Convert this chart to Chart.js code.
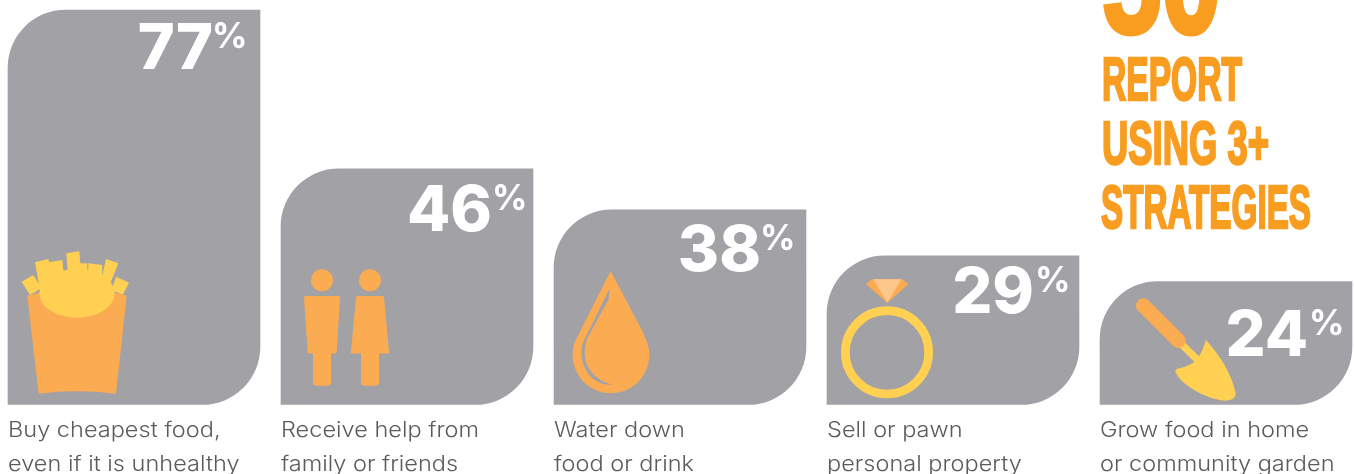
<!DOCTYPE html>
<html>
<head>
<meta charset="utf-8">
<style>
  html, body { margin: 0; padding: 0; background: #fff; overflow: hidden; }
  #wrap { width: 1354px; height: 474px; }
</style>
<script src="https://cdn.jsdelivr.net/npm/chart.js@4"></script>
</head>
<body>
<div id="wrap"><canvas id="chart" width="1354" height="474"></canvas></div>
<script>
const categories = [
  ['Buy cheapest food,', 'even if it is unhealthy'],
  ['Receive help from', 'family or friends'],
  ['Water down', 'food or drink'],
  ['Sell or pawn', 'personal property'],
  ['Grow food in home', 'or community garden'],
];
const values = [77, 46, 38, 29, 24];
const headlineNumber = '50';
const headlineLines = ['REPORT', 'USING 3+', 'STRATEGIES'];

const GREY = '#a2a1a5';
const ORANGE = '#fbac52';
const YELLOW = '#ffd051';
const HEADLINE = '#f99d20';
const TEXT = '#5b5b5d';

const BAR_WIDTH = 252;
// baseline and insets from the bar's right edge for the big value and its percent sign
const valueBaselines = [69, 231, 271, 313, 356];
const digitInsets = [47, 41, 45, 45, 44];
const percentInsets = [48, 41, 46, 44, 43];

// small helpers, icon paths are laid out on a 3x grid
function poly(ctx, pts) {
  ctx.beginPath();
  pts.forEach((p, i) => (i ? ctx.lineTo(p[0], p[1]) : ctx.moveTo(p[0], p[1])));
  ctx.closePath();
  ctx.fill();
}

function onGrid(ctx, x, y, draw) {
  ctx.save();
  ctx.translate(x, y);
  ctx.scale(1 / 3, 1 / 3);
  draw();
  ctx.restore();
}

function drawFries(ctx) {
  ctx.fillStyle = YELLOW;
  [
    [[65, 155], [100, 135], [125, 175], [90, 195]],
    [[105, 97], [145, 87], [165, 170], [120, 180]],
    [[145, 97], [187, 90], [195, 170], [150, 170]],
    [[199, 70], [238, 64], [245, 150], [205, 150]],
    [[235, 100], [262, 100], [262, 170], [235, 170]],
    [[265, 100], [307, 105], [305, 170], [265, 170]],
    [[318, 87], [355, 100], [325, 175], [300, 165]],
    [[348, 140], [387, 158], [368, 195], [335, 180]],
  ].forEach((f) => poly(ctx, f));
  // carton, with the scooped mouth cut by the yellow ellipse below
  ctx.fillStyle = ORANGE;
  ctx.beginPath();
  ctx.moveTo(82, 197);
  ctx.lineTo(118, 188);
  ctx.lineTo(345, 188);
  ctx.lineTo(380, 197);
  ctx.lineTo(348, 491);
  ctx.quadraticCurveTo(231, 477, 116, 491);
  ctx.closePath();
  ctx.fill();
  ctx.fillStyle = YELLOW;
  ctx.beginPath();
  ctx.ellipse(231, 190, 113, 73, 0, 0, Math.PI * 2);
  ctx.fill();
}

function roundedFill(ctx, x, y, w, h, r) {
  ctx.beginPath();
  ctx.roundRect(x, y, w, h, r);
  ctx.fill();
}

function drawPeople(ctx) {
  ctx.fillStyle = ORANGE;
  [126, 270].forEach((cx) => {
    ctx.beginPath();
    ctx.arc(cx, 361, 33, 0, Math.PI * 2);
    ctx.fill();
  });
  ctx.lineJoin = 'round';
  ctx.lineWidth = 10;
  ctx.strokeStyle = ORANGE;
  [
    { body: [[77, 413], [175, 413], [165, 575], [88, 575]], hem: [84, 168], legs: 99 },
    { body: [[233, 413], [307, 413], [322, 575], [218, 575]], hem: [212, 328], legs: 243 },
  ].forEach((p) => {
    poly(ctx, p.body);
    ctx.stroke();
    // square off the hem, then the legs
    ctx.fillRect(p.hem[0], 570, p.hem[1] - p.hem[0], 10);
    ctx.fillRect(p.legs, 570, 54, 90);
    roundedFill(ctx, p.legs, 620, 54, 57, 10);
  });
}

function drawDrop(ctx) {
  ctx.fillStyle = ORANGE;
  ctx.beginPath();
  ctx.moveTo(182, 213);
  ctx.lineTo(283, 404);
  ctx.arc(183, 465, 115, Math.atan2(-61, 100), Math.atan2(-61, -100));
  ctx.closePath();
  ctx.fill();
  // highlight sliver down the left side
  ctx.fillStyle = GREY;
  ctx.beginPath();
  ctx.moveTo(178, 268);
  ctx.lineTo(100, 425);
  ctx.bezierCurveTo(80, 480, 115, 558, 187, 554);
  ctx.bezierCurveTo(130, 540, 85, 490, 112, 415);
  ctx.lineTo(176, 298);
  ctx.closePath();
  ctx.fill();
}

function drawRing(ctx) {
  ctx.strokeStyle = YELLOW;
  ctx.lineWidth = 26;
  ctx.beginPath();
  ctx.arc(201, 337, 125, 0, Math.PI * 2);
  ctx.stroke();
  ctx.fillStyle = ORANGE;
  poly(ctx, [[138, 133], [155, 118], [248, 118], [265, 133], [202, 188]]);
  ctx.fillStyle = '#fdc78c';
  poly(ctx, [[160, 118], [244, 118], [202, 188]]);
}

function drawTrowel(ctx) {
  ctx.strokeStyle = YELLOW;
  ctx.lineWidth = 22;
  ctx.beginPath();
  ctx.moveTo(270, 218);
  ctx.lineTo(335, 282);
  ctx.stroke();
  ctx.strokeStyle = ORANGE;
  ctx.lineWidth = 44;
  ctx.lineCap = 'round';
  ctx.beginPath();
  ctx.moveTo(160, 107);
  ctx.lineTo(265, 212);
  ctx.stroke();
  ctx.fillStyle = YELLOW;
  ctx.beginPath();
  ctx.moveTo(348, 210);
  ctx.quadraticCurveTo(420, 290, 437, 370);
  ctx.quadraticCurveTo(437, 392, 405, 392);
  ctx.bezierCurveTo(340, 385, 270, 340, 256, 305);
  ctx.quadraticCurveTo(255, 298, 262, 296);
  ctx.quadraticCurveTo(300, 290, 322, 268);
  ctx.quadraticCurveTo(340, 240, 348, 210);
  ctx.closePath();
  ctx.fill();
}

// condensed headline: each line is squeezed to its set width and thickened with a stroke
function fittedText(ctx, text, x, baseline, width, font, weight) {
  ctx.save();
  ctx.font = font;
  const w = ctx.measureText(text).width;
  ctx.translate(x, baseline);
  ctx.scale(width / w, 1);
  ctx.textAlign = 'left';
  ctx.textBaseline = 'alphabetic';
  ctx.lineJoin = 'miter';
  ctx.lineWidth = weight;
  ctx.strokeStyle = ctx.fillStyle;
  ctx.fillText(text, 0, 0);
  ctx.strokeText(text, 0, 0);
  ctx.restore();
}

const decorations = {
  id: 'decorations',
  afterDatasetsDraw(chart) {
    const ctx = chart.ctx;
    const bars = chart.getDatasetMeta(0).data;

    ctx.save();
    onGrid(ctx, 0, 230, () => drawFries(ctx));
    onGrid(ctx, 280, 160, () => drawPeople(ctx));
    onGrid(ctx, 550, 200, () => drawDrop(ctx));
    onGrid(ctx, 820, 240, () => drawRing(ctx));
    onGrid(ctx, 1090, 270, () => drawTrowel(ctx));
    ctx.restore();

    ctx.save();
    ctx.textBaseline = 'alphabetic';
    bars.forEach((bar, i) => {
      const left = bar.x - BAR_WIDTH / 2;
      const right = bar.x + BAR_WIDTH / 2;

      // big white value with a raised percent sign
      ctx.fillStyle = '#fff';
      ctx.textAlign = 'right';
      ctx.font = '800 63px Inter';
      ctx.fillText(String(values[i]), right - digitInsets[i], valueBaselines[i]);
      ctx.textAlign = 'left';
      ctx.font = '700 35px Inter';
      ctx.fillText('%', right - percentInsets[i], valueBaselines[i] - 21);

      // two line caption under the bar, stretched a little wider than Inter sets
      ctx.fillStyle = TEXT;
      ctx.font = '300 21.5px Inter';
      chart.data.labels[i].forEach((line, n) => {
        ctx.save();
        ctx.translate(left, 437 + n * 34);
        ctx.scale(1.095, 1);
        ctx.fillText(line, 0, 0);
        ctx.restore();
      });
    });
    ctx.restore();

    ctx.save();
    ctx.fillStyle = HEADLINE;
    const heavy = 'bold 62px "Liberation Sans"';
    fittedText(ctx, headlineNumber, 1102, 33, 119, 'bold 150px "Liberation Sans"', 5);
    fittedText(ctx, headlineLines[0], 1102, 100, 140, heavy, 2.5);
    fittedText(ctx, headlineLines[1], 1102, 164, 167, heavy, 2.5);
    fittedText(ctx, headlineLines[2], 1101, 228, 210, heavy, 2.5);
    ctx.restore();
  },
};

new Chart(document.getElementById('chart').getContext('2d'), {
  type: 'bar',
  data: {
    labels: categories,
    datasets: [
      {
        data: values,
        backgroundColor: GREY,
        borderSkipped: false,
        borderWidth: 0,
        barThickness: BAR_WIDTH,
        borderRadius: { topLeft: 58, topRight: 0, bottomLeft: 0, bottomRight: 58 },
        clip: false,
      },
    ],
  },
  options: {
    responsive: false,
    animation: false,
    layout: { padding: { left: 134, right: 128, top: 10, bottom: 69.5 } },
    plugins: { legend: { display: false }, tooltip: { enabled: false } },
    scales: {
      x: { display: false, offset: false },
      y: { display: false, min: 0, max: 77 },
    },
  },
  plugins: [decorations],
});
</script>
</body>
</html>
